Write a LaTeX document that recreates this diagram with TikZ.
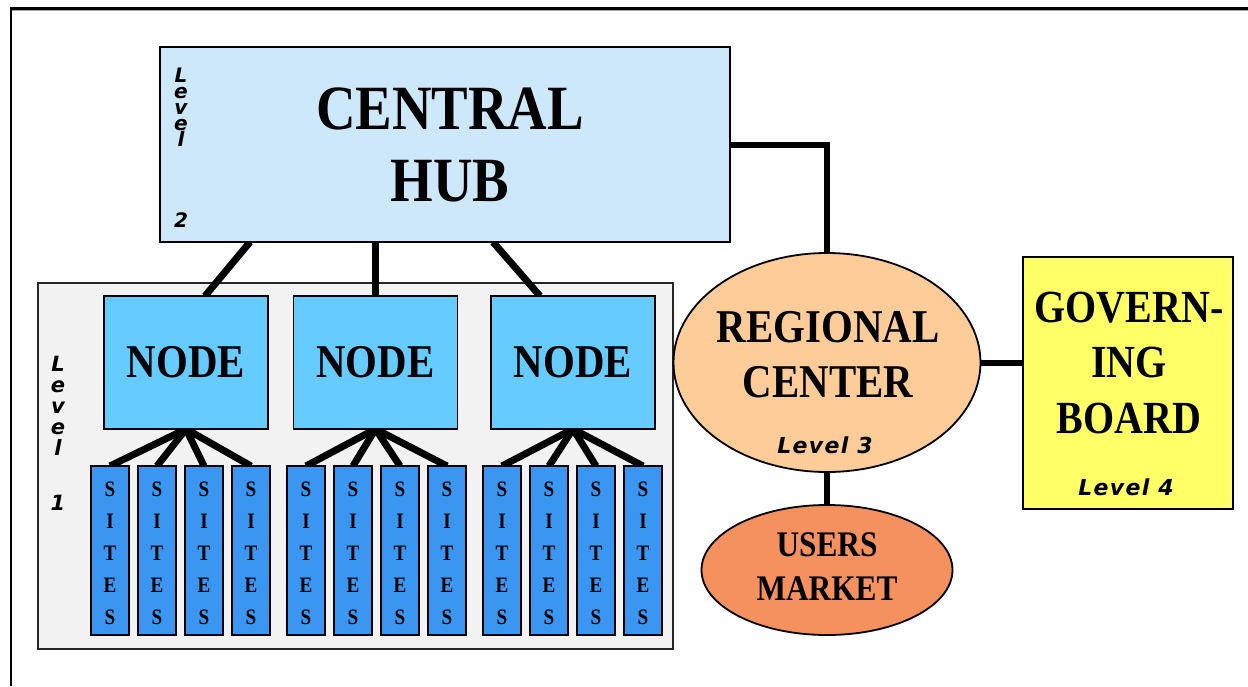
\documentclass[tikz,border=0pt]{standalone}
\usepackage{fontspec}
\usetikzlibrary{shapes.geometric,calc}
\newfontfamily\hd{Liberation Serif}[FakeStretch=0.87]
\newfontfamily\lv{DejaVu Sans}[LetterSpace=6]
\definecolor{hubfill}{RGB}{205,232,251}
\definecolor{nodefill}{RGB}{102,204,255}
\definecolor{sitefill}{RGB}{58,150,240}
\definecolor{panelfill}{RGB}{242,242,242}
\definecolor{regfill}{RGB}{253,204,153}
\definecolor{userfill}{RGB}{245,145,95}
\definecolor{boardfill}{RGB}{255,255,102}
\pgfdeclarelayer{base}
\pgfdeclarelayer{panel}
\pgfdeclarelayer{wires}
\pgfsetlayers{base,panel,wires,main}
\begin{document}
\begin{tikzpicture}[x=1pt,y=-1pt,
  box/.style={draw=black, line width=1.8pt, inner sep=0pt, outer sep=0pt},
  txt/.style={inner sep=0pt, outer sep=0pt, align=center, text=black},
  wire/.style={line width=7pt, black},
  link/.style={line width=6pt, black},
  lvtxt/.style={txt, font=\lv\bfseries\itshape\fontsize{22}{22}\selectfont}]
\begin{pgfonlayer}{base}
\fill[white] (0,0) rectangle (1248,686);
% outer frame (top and left edges)
\fill[black] (10,7) rectangle (1248,10);
\fill[black!35] (12,10) rectangle (1248,11);
\fill[black] (10,7) rectangle (12,686);
\end{pgfonlayer}

% level 2: central hub
\node[box, fill=hubfill, minimum width=570pt, minimum height=195pt] (hub) at (445,144.5) {};
\node[txt, anchor=north, font=\hd\bfseries\fontsize{63}{72}\selectfont] (hubtxt) at (450,88) {CENTRAL\\HUB};
\node[txt, anchor=north, font=\lv\bfseries\itshape\fontsize{20}{16}\selectfont] (lv2) at (181,68) {L\\e\\v\\e\\l\\[65pt]2};

% level 1: panel with nodes and sites
\begin{pgfonlayer}{panel}
\node[box, draw=black!85, fill=panelfill, minimum width=635pt, minimum height=366pt] (panel) at (355.5,466) {};
\end{pgfonlayer}
\node[txt, anchor=north, font=\lv\bfseries\itshape\fontsize{21}{21}\selectfont] (lv1) at (58,356) {L\\e\\v\\e\\l\\[34pt]1};

\foreach \i/\cx in {1/186, 2/375.5, 3/573}
  \node[box, fill=nodefill, minimum width=164pt, minimum height=133pt,
        font=\hd\bfseries\fontsize{47}{47}\selectfont] (n\i) at (\cx,362.5) {NODE};

\foreach \g/\xo in {1/91, 2/287, 3/483}
  \foreach \k in {0,...,3} {
    \pgfmathsetmacro\sx{\xo+47*\k+19}
    \node[box, fill=sitefill, minimum width=38pt, minimum height=169pt] (s\g\k) at (\sx,550.5) {};
    \node[txt, anchor=north, font=\hd\bfseries\fontsize{22}{32}\selectfont] (st\g\k) at (\sx,482) {S\\I\\T\\E\\S};
  }

% level 3: regional center and users market
\node[box, ellipse, fill=regfill, minimum width=307pt, minimum height=219pt] (rc) at (827,362.5) {};
\node[txt, anchor=north, font=\hd\bfseries\fontsize{47}{55}\selectfont] (rctxt) at (828,311) {REGIONAL\\CENTER};
\node[lvtxt, anchor=base] (rclv) at (825,453) {Level 3};

\node[box, ellipse, fill=userfill, minimum width=251pt, minimum height=130pt] (um) at (827,570) {};
\node[txt, anchor=north, font=\hd\bfseries\fontsize{36}{44}\selectfont] (umtxt) at (827,533) {USERS\\MARKET};

% level 4: governing board
\node[box, fill=boardfill, minimum width=210pt, minimum height=252pt] (gb) at (1128,383) {};
\node[txt, anchor=north, font=\hd\bfseries\fontsize{46}{55.5}\selectfont] (gbtxt) at (1129,292) {GOVERN-\\ING\\BOARD};
\node[lvtxt, anchor=base] (gblv) at (1126,495) {Level 4};

% connectors
\begin{pgfonlayer}{wires}
\foreach \g in {1,2,3}
  \foreach \k in {0,...,3}
    \draw[wire] (n\g.south) -- (s\g\k.north);
\draw[wire] ([xshift=90pt]hub.south west) -- ([xshift=19pt]n1.north);
\draw[wire] (n2.north |- hub.south) -- (n2.north);
\draw[wire] ([xshift=333pt]hub.south west) -- ([xshift=-33pt]n3.north);
\draw[link] (hub.east) -| (rc.north);
\draw[link] (rc.south) -- (um.north);
\draw[link] (rc.east) -- (rc.east -| gb.west);
\end{pgfonlayer}
\useasboundingbox (0,0) rectangle (1248,686);
\end{tikzpicture}
\end{document}
